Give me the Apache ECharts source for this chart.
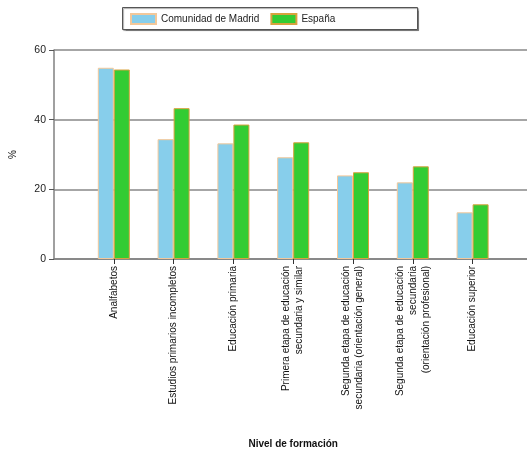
<!DOCTYPE html>
<html>
<head>
<meta charset="utf-8">
<script src="https://cdn.jsdelivr.net/npm/echarts@6/dist/echarts.min.js"></script>
<style>
html, body { margin: 0; padding: 0; background: #fff; }
#chart { width: 527px; height: 452px; }
</style>
</head>
<body>
<div id="chart"></div>
<script>
// categorías (con huecos vacíos a los lados, como en el original)
const categorias = [
    '',
    'Analfabetos',
    'Estudios primarios incompletos',
    'Educación primaria',
    'Primera etapa de educación\nsecundaria y similar',
    'Segunda etapa de educación\nsecundaria (orientación general)',
    'Segunda etapa de educación\nsecundaria\n(orientación profesional)',
    'Educación superior',
    ''
];
const madrid = [null, 54.9, 34.4, 33.2, 29.2, 24.0, 22.0, 13.4, null];
const espana = [null, 54.4, 43.3, 38.6, 33.5, 24.9, 26.6, 15.7, null];
const yTicks = [0, 20, 40, 60];

const fuente = 'Liberation Sans, Arial, sans-serif';

const chart = echarts.init(document.getElementById('chart'));
const option = {
    animation: false,
    textStyle: { fontFamily: fuente },
    graphic: [{
        type: 'rect',
        left: 122,
        top: 7,
        shape: { width: 295, height: 22 },
        style: { fill: '#fff', stroke: '#555', lineWidth: 1, shadowColor: 'rgba(0,0,0,0.35)', shadowOffsetX: 1, shadowOffsetY: 1, shadowBlur: 1 },
        z: -1
    }],
    legend: {
        left: 122,
        top: 8,
        padding: [5, 8],
        icon: 'rect',
        itemWidth: 25,
        itemHeight: 10,
        itemGap: 11,
        textStyle: { fontSize: 10, color: '#222', fontFamily: fuente },
        data: ['Comunidad de Madrid', 'España']
    },
    grid: {
        left: 54,
        right: -5.4,
        top: 50,
        bottom: 193,
        containLabel: false,
        outerBoundsMode: 'none'
    },
    xAxis: {
        type: 'category',
        data: categorias,
        boundaryGap: false,
        name: 'Nivel de formación',
        nameLocation: 'middle',
        nameGap: 180,
        nameTextStyle: { fontWeight: 'bold', fontSize: 10, color: '#111', fontFamily: fuente },
        axisLine: { lineStyle: { color: '#808080', width: 1.5 } },
        axisTick: {
            length: 5,
            lineStyle: { color: '#333' },
            interval: function (index, value) { return value !== ''; }
        },
        axisLabel: {
            interval: 0,
            rotate: 90,
            fontSize: 10,
            lineHeight: 13,
            color: '#111',
            margin: 7,
            fontFamily: fuente
        },
        splitLine: { show: false }
    },
    yAxis: {
        type: 'value',
        min: yTicks[0],
        max: yTicks[yTicks.length - 1],
        interval: 20,
        name: '%',
        nameLocation: 'middle',
        nameGap: 36,
        nameTextStyle: { fontSize: 10, color: '#111', fontFamily: fuente },
        axisLine: { show: true, lineStyle: { color: '#808080', width: 1.5 } },
        axisTick: { show: true, length: 5, lineStyle: { color: '#555' } },
        axisLabel: { fontSize: 10.5, color: '#222', margin: 8, fontFamily: fuente },
        splitLine: { show: true, lineStyle: { color: '#888', width: 1.5 } }
    },
    series: [
        {
            name: 'Comunidad de Madrid',
            type: 'bar',
            data: madrid,
            barWidth: 16,
            barGap: '0%',
            itemStyle: { color: '#87ceeb', borderColor: '#f3c89a', borderWidth: 1 }
        },
        {
            name: 'España',
            type: 'bar',
            data: espana,
            barWidth: 16,
            itemStyle: { color: '#33cc33', borderColor: '#d8a23e', borderWidth: 1 }
        }
    ]
};
chart.setOption(option);
</script>
</body>
</html>
